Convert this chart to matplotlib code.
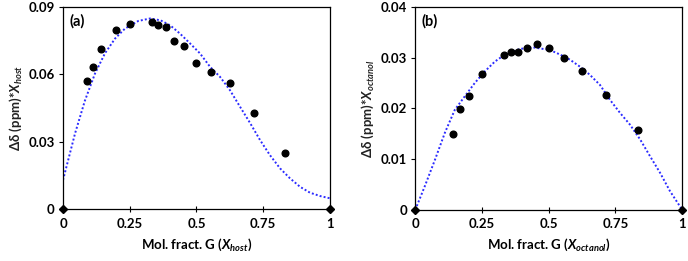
import numpy as np
import matplotlib as mpl
import matplotlib.pyplot as plt

mpl.rcParams['font.family'] = ['Lato', 'DejaVu Sans']
mpl.rcParams['font.weight'] = 'bold'
mpl.rcParams['mathtext.fontset'] = 'custom'
mpl.rcParams['mathtext.rm'] = 'Lato:bold'
mpl.rcParams['mathtext.it'] = 'Lato:bold:italic'
mpl.rcParams['mathtext.bf'] = 'Lato:bold'

# panel (a): host
xa = [1/11, 1/9, 1/7, 0.2, 0.25, 1/3, 0.357, 0.385, 0.417, 0.455, 0.5, 0.556, 0.625, 0.714, 0.833]
ya = [0.0571, 0.0632, 0.0713, 0.0799, 0.0823, 0.0832, 0.0821, 0.0808, 0.0749, 0.0727,
      0.0650, 0.0610, 0.0561, 0.0426, 0.0249]
fit_xa = [0.0, 0.045, 0.082, 0.12, 0.157, 0.195, 0.232, 0.282, 0.326, 0.365, 0.401, 0.438,
          0.476, 0.513, 0.551, 0.588, 0.625, 0.663, 0.70, 0.738, 0.775, 0.813, 0.85, 0.888,
          0.925, 0.963, 1.0]
fit_ya = [0.0130, 0.0337, 0.0483, 0.0604, 0.0693, 0.0759, 0.0803, 0.0837, 0.0848, 0.0840,
          0.0818, 0.0781, 0.0737, 0.0693, 0.0633, 0.0589, 0.0530, 0.0456, 0.0385, 0.0308,
          0.0241, 0.0182, 0.0138, 0.0100, 0.0074, 0.0059, 0.0049]

# panel (b): octanol
xb = [1/7, 1/6, 0.2, 0.25, 1/3, 0.357, 0.385, 0.417, 0.455, 0.5, 0.556, 0.625, 0.714, 0.833]
yb = [0.0149, 0.0199, 0.0224, 0.0268, 0.0305, 0.0310, 0.0310, 0.0318, 0.0326, 0.0318,
      0.0299, 0.0273, 0.0227, 0.0158]
fit_xb = [0.0, 0.036, 0.074, 0.111, 0.148, 0.186, 0.223, 0.261, 0.298, 0.336, 0.354, 0.392,
          0.442, 0.504, 0.542, 0.579, 0.617, 0.654, 0.692, 0.729, 0.767, 0.804, 0.842, 0.879,
          0.917, 0.954, 1.0]
fit_yb = [0.0, 0.0047, 0.0099, 0.0152, 0.0197, 0.0224, 0.0250, 0.0273, 0.0292, 0.0306, 0.0309,
          0.0317, 0.0320, 0.0315, 0.0306, 0.0296, 0.0282, 0.0266, 0.0246, 0.0217, 0.0191,
          0.0168, 0.0139, 0.0106, 0.0073, 0.0037, 0.0]

ends_x = [0, 1]
ends_y = [0, 0]

fig = plt.figure(figsize=(6.88, 2.61), dpi=100)
ax1 = fig.add_axes([0.0916, 0.198, 0.388, 0.776])
ax2 = fig.add_axes([0.6036, 0.196, 0.388, 0.778])

panels = [
    (ax1, xa, ya, fit_xa, fit_ya, 0.09, [0, 0.03, 0.06, 0.09], ['0', '0.03', '0.06', '0.09'],
     'host', '(a)'),
    (ax2, xb, yb, fit_xb, fit_yb, 0.04, [0, 0.01, 0.02, 0.03, 0.04],
     ['0', '0.01', '0.02', '0.03', '0.04'], 'octanol', '(b)'),
]

for ax, x, y, fx, fy, ymax, yt, ytl, sub, tag in panels:
    ax.plot(fx, fy, color='#2b2bff', linestyle=(0, (1, 1.1)), linewidth=1.4)
    ax.plot(x, y, 'o', color='black', markersize=4.8)
    ax.plot(ends_x, ends_y, 'D', color='black', markersize=3.8, clip_on=False, zorder=5)
    ax.set_xlim(0, 1)
    ax.set_ylim(0, ymax)
    ax.set_xticks([0, 0.25, 0.5, 0.75, 1])
    ax.set_xticklabels(['0', '0.25', '0.5', '0.75', '1'])
    ax.set_yticks(yt)
    ax.set_yticklabels(ytl)
    ax.tick_params(axis='x', direction='inout', length=4, width=0.8, labelsize=9.5, pad=4)
    ax.tick_params(axis='y', direction='out', length=3, width=0.8, labelsize=9.5, pad=3)
    for s in ax.spines.values():
        s.set_linewidth(0.9)
    ax.set_xlabel(r'Mol. fract. G ($X_{%s}$)' % sub, fontsize=9.5, fontweight='bold', labelpad=5)
    ax.set_ylabel(r'Δδ (ppm)*$X_{%s}$' % sub, fontsize=9.5, fontweight='bold',
                  color='#222222', labelpad=3)
    ax.text(0.025, 0.93, tag, transform=ax.transAxes, fontsize=10.5, fontweight='bold',
            va='center', ha='left')

fig.savefig('out.png', dpi=100)
